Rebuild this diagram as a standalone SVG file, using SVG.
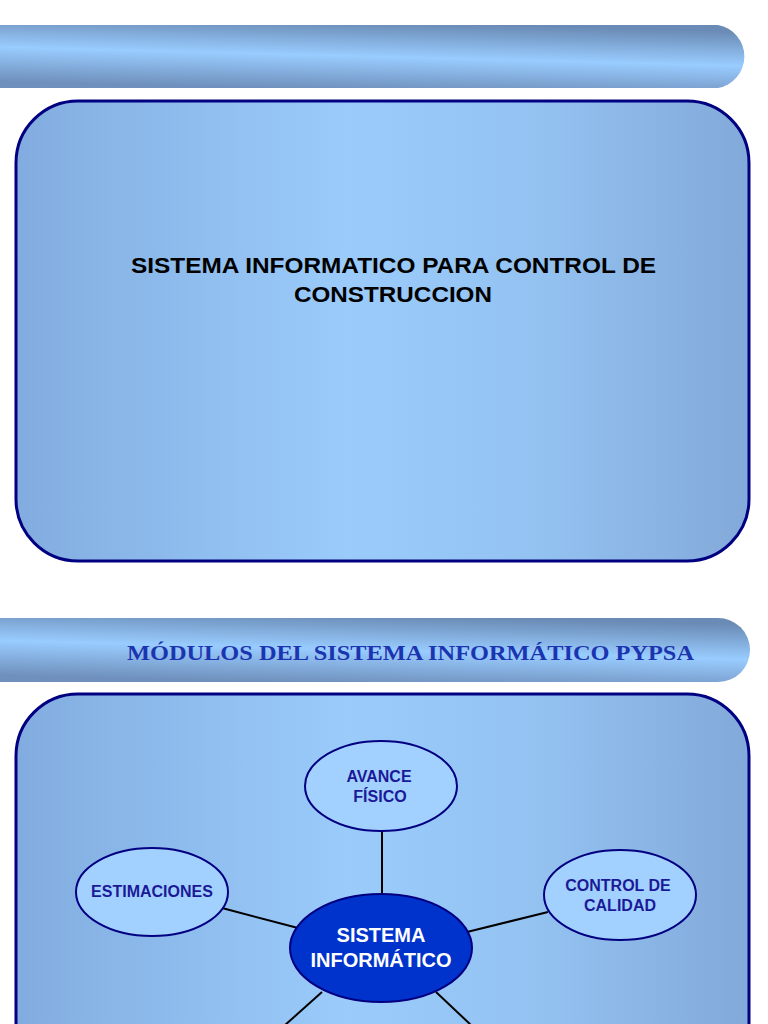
<svg xmlns="http://www.w3.org/2000/svg" width="768" height="1024" viewBox="0 0 768 1024">
<defs>
<linearGradient id="bar" x1="0.35" y1="1" x2="0.65" y2="0">
<stop offset="0" stop-color="#6f90bc"/>
<stop offset="0.5" stop-color="#99ccff"/>
<stop offset="1" stop-color="#6a8bb5"/>
</linearGradient>
<linearGradient id="box" x1="0" y1="0" x2="1" y2="0">
<stop offset="0" stop-color="#82acdf"/>
<stop offset="0.45" stop-color="#9acbfb"/>
<stop offset="0.7" stop-color="#94c3f2"/>
<stop offset="1" stop-color="#82a9d9"/>
</linearGradient>
<style>
.panel{fill:url(#box);stroke:#000080;stroke-width:3}
.bar{fill:url(#bar)}
.mod{fill:#a3d1ff;stroke:#000080;stroke-width:2}
.core{fill:#0033cc;stroke:#000080;stroke-width:2}
.mt{font-family:"Liberation Sans",Arial,sans-serif;font-size:16px;font-weight:bold;fill:#1a1a99;text-anchor:middle}
.ct{font-family:"Liberation Sans",Arial,sans-serif;font-size:20px;font-weight:bold;fill:#ffffff;text-anchor:middle}
.tt{font-family:"Liberation Sans",Arial,sans-serif;font-size:22px;font-weight:bold;fill:#000000;text-anchor:middle}
.conn line{stroke:#000000;stroke-width:2}
</style>
</defs>
<rect width="768" height="1024" fill="#ffffff"/>
<g id="header1">
<path class="bar" d="M0 25 H718 A32 32 0 0 1 718 88 H0 Z"/>
</g>
<g id="panel1">
<rect class="panel" x="16" y="101" width="733" height="460" rx="62" ry="62"/>
<text class="tt" x="393.5" y="273" textLength="525" lengthAdjust="spacingAndGlyphs">SISTEMA INFORMATICO PARA CONTROL DE</text>
<text class="tt" x="393" y="302" textLength="198" lengthAdjust="spacingAndGlyphs">CONSTRUCCION</text>
</g>
<g id="header2">
<path class="bar" d="M0 618 H718 A32 32 0 0 1 718 682 H0 Z"/>
<text x="410.5" y="660" font-family="'Liberation Serif','Times New Roman',serif" font-size="22" font-weight="bold" fill="#1b35b0" text-anchor="middle" textLength="567" lengthAdjust="spacingAndGlyphs">MÓDULOS DEL SISTEMA INFORMÁTICO PYPSA</text>
</g>
<g id="panel2">
<rect class="panel" x="16" y="694" width="733" height="420" rx="62" ry="62"/>
</g>
<g id="connectors" class="conn">
<line x1="382" y1="831" x2="382" y2="895"/>
<line x1="222" y1="908" x2="298" y2="928"/>
<line x1="548" y1="912" x2="467" y2="932"/>
<line x1="322" y1="992" x2="284" y2="1026"/>
<line x1="436" y1="992" x2="472" y2="1026"/>
</g>
<g id="avance">
<ellipse class="mod" cx="381" cy="786" rx="76" ry="45"/>
<text class="mt" x="379" y="782">AVANCE</text>
<text class="mt" x="380" y="802">FÍSICO</text>
</g>
<g id="estimaciones">
<ellipse class="mod" cx="152" cy="892" rx="76" ry="44"/>
<text class="mt" x="152" y="897">ESTIMACIONES</text>
</g>
<g id="calidad">
<ellipse class="mod" cx="620" cy="895" rx="76" ry="45"/>
<text class="mt" x="618" y="891">CONTROL DE</text>
<text class="mt" x="620" y="911">CALIDAD</text>
</g>
<g id="sistema">
<ellipse class="core" cx="381" cy="948" rx="91" ry="54"/>
<text class="ct" x="381" y="942">SISTEMA</text>
<text class="ct" x="381" y="967">INFORMÁTICO</text>
</g>
</svg>
